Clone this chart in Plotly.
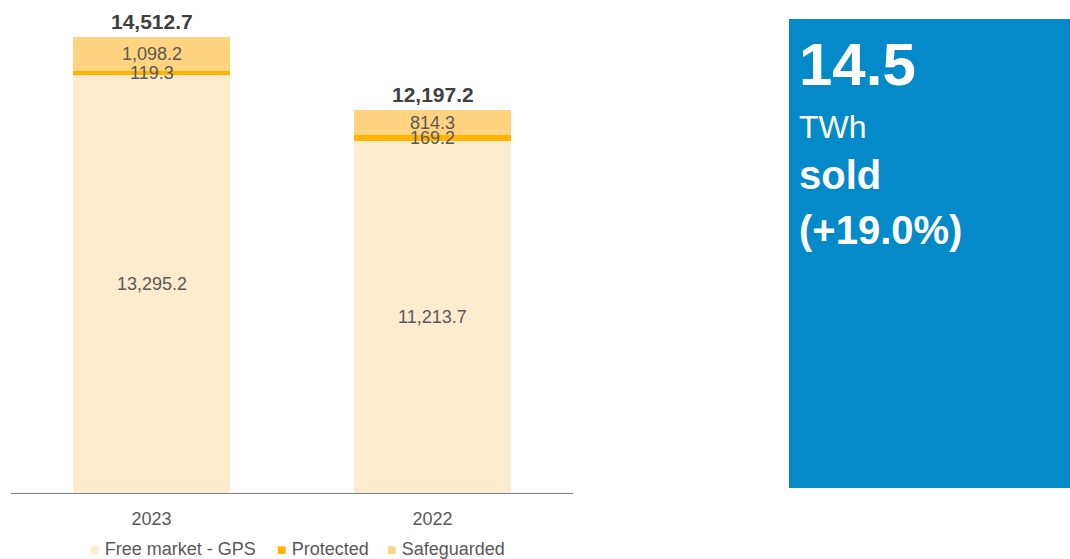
import plotly.graph_objects as go

# Electricity sold by segment (GWh)
years = ["2023", "2022"]
free_market = [13295.2, 11213.7]
protected = [119.3, 169.2]
safeguarded = [1098.2, 814.3]
totals = [14512.7, 12197.2]
segment_names = ["Free market - GPS", "Protected", "Safeguarded"]

headline_value = "14.5"
headline_unit = "TWh"
headline_word = "sold"
headline_change = "(+19.0%)"

COL_FREE = "#FFEBCD"
COL_PROT = "#FFB400"
COL_SAFE = "#FFD37F"
FONT = "Liberation Sans, Arial, sans-serif"
colors = [COL_FREE, COL_PROT, COL_SAFE]
series = [free_market, protected, safeguarded]

fig = go.Figure()
for name, vals, col in zip(segment_names, series, colors):
    fig.add_trace(go.Bar(x=years, y=vals, name=name, marker=dict(color=col, line=dict(width=0)),
                         hoverinfo="skip", showlegend=False))

ann = []
# segment value labels at each segment's middle, totals on top
# (category axis: annotations are placed by category index)
for i, yr in enumerate(years):
    base = 0.0
    for vals in series:
        v = vals[i]
        ann.append(dict(x=i, y=base + v / 2, text=f"{v:,.1f}", showarrow=False,
                        xref="x", yref="y", font=dict(size=18, color="#595959", family=FONT)))
        base += v
    ann.append(dict(x=i, y=totals[i], text=f"<b>{totals[i]:,.1f}</b>", showarrow=False,
                    xref="x", yref="y", yanchor="bottom", yshift=2,
                    font=dict(size=21, color="#404040", family=FONT)))

L, R, T, B = 11, 497, 20, 66
PW = 1070 - L - R
PH = 559 - T - B


def px(xp):
    return (xp - L) / PW


def py(yp):
    return (559 - B - yp) / PH


# legend row drawn as coloured squares + names
legend_x = [88, 275, 385]
for name, col, lx in zip(segment_names, colors, legend_x):
    ann.append(dict(x=px(lx), y=py(549), xref="paper", yref="paper", showarrow=False,
                    xanchor="left", yanchor="middle",
                    text=f"<span style='color:{col};font-size:16px'>■</span> {name}",
                    font=dict(size=18, color="#595959", family=FONT)))

# headline panel text
tx = px(797)
head = [
    (f"<b>{headline_value}</b>", 64, 60),
    (headline_unit, 127, 32),
    (f"<b>{headline_word}</b>", 175, 40),
    (f"<b>{headline_change}</b>", 230, 40),
]
for txt, yy, sz in head:
    ann.append(dict(x=tx, y=py(yy), text=txt, xref="paper", yref="paper", showarrow=False,
                    xanchor="left", yanchor="middle",
                    font=dict(size=sz, color="white", family=FONT)))

fig.update_layout(
    width=1070, height=559,
    margin=dict(l=L, r=R, t=T, b=B, autoexpand=False),
    barmode="stack", bargap=0.44,
    plot_bgcolor="white", paper_bgcolor="white",
    font=dict(family=FONT, size=18, color="#595959"),
    showlegend=False,
    xaxis=dict(type="category", range=[-0.5, 1.5], showline=True, linecolor="#7F7F7F",
               linewidth=1, showgrid=False, ticks="", tickfont=dict(size=18, color="#595959"),
               ticklabelstandoff=9, fixedrange=True, automargin=False),
    yaxis=dict(range=[0, 15053], visible=False, showgrid=False, fixedrange=True),
    annotations=ann,
    shapes=[dict(type="rect", xref="paper", yref="paper", x0=px(789), x1=px(1070),
                 y0=py(488), y1=py(19), fillcolor="#0489C9", line=dict(width=0), layer="below")],
)

fig.write_html("out.html", config={"displayModeBar": False})
